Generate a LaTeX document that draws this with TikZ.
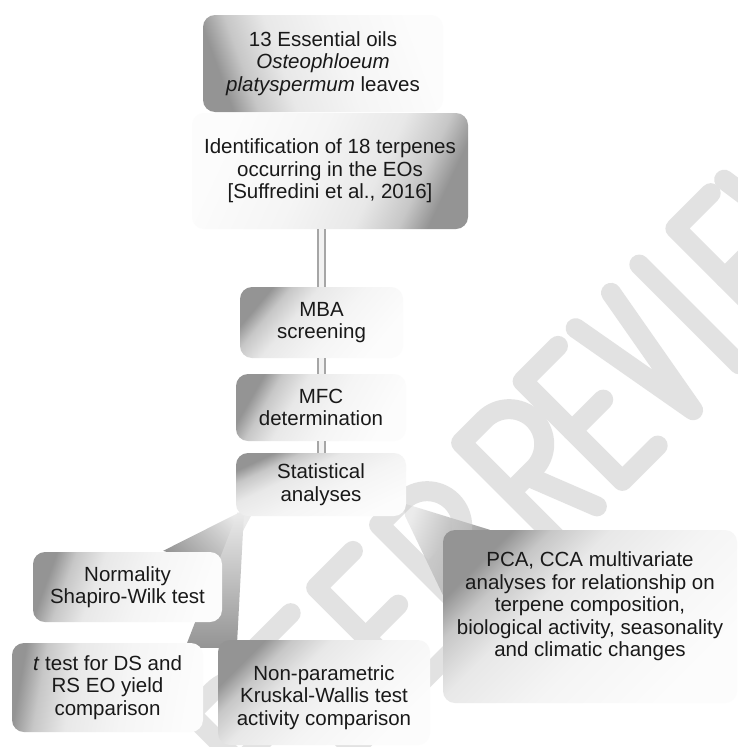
\documentclass[tikz,border=0pt]{standalone}
\usepackage{fontspec}
\setmainfont{Liberation Sans}
\usetikzlibrary{calc}
\pgfdeclarelayer{bg}
\pgfdeclarelayer{wmark}
\pgfsetlayers{bg,wmark,main}
\pgfdeclarehorizontalshading{boxshade}{100bp}{color(0bp)=(black!42); color(25bp)=(black!42); color(31bp)=(black!22); color(40bp)=(black!9); color(55bp)=(black!4); color(75bp)=(black!1); color(100bp)=(black!1)}
\pgfdeclarehorizontalshading{wedgeshade}{100bp}{color(0bp)=(black!42); color(25bp)=(black!42); color(75bp)=(black!8); color(100bp)=(black!8)}
\begin{document}
\begin{tikzpicture}[x=1pt,y=-1pt,
  box/.style={rounded corners=12pt, shade, shading=boxshade,
    align=center, font=\fontsize{20.5}{22.5}\selectfont, text=black!90, inner sep=0pt},
  txt/.style={align=center, font=\fontsize{20.5}{22.5}\selectfont, text=black!90, inner sep=0pt},
  wedge/.style={shading=wedgeshade},
  dbl/.style={draw=black!35, line width=2pt, double=black!5, double distance=5pt},
  wm/.style={draw=black!22, line width=20pt, line cap=round, line join=round}
]
\begin{pgfonlayer}{bg}
\fill[white] (0,0) rectangle (738,747);
\end{pgfonlayer}
\useasboundingbox (0,0) rectangle (738,747);

% boxes
\node[box, shading angle=20, minimum width=240pt, minimum height=97pt] (oils) at (323,63.5)
  {13 Essential oils\\\textit{Osteophloeum}\\\textit{platyspermum} leaves};
\node[box, shading angle=155, minimum width=276pt, minimum height=116pt] (ident) at (330,171)
  {Identification of 18 terpenes\\occurring in the EOs\\{[}Suffredini et al., 2016{]}};
\node[box, shading angle=-40, minimum width=163pt, minimum height=71pt] (mba) at (321.5,322.5)
  {MBA\\screening};
\node[box, shading angle=-30, minimum width=170pt, minimum height=67pt] (mfc) at (321,407.5)
  {MFC\\determination};
\node[box, shading angle=-65, minimum width=170pt, minimum height=63pt] (stat) at (321,484.5)
  {Statistical\\analyses};
\node[box, shading angle=-20, minimum width=189pt, minimum height=70pt] (norm) at (127.5,587)
  {Normality\\Shapiro-Wilk test};
\node[box, shading angle=-10, minimum width=191pt, minimum height=89pt] (ttest) at (107.5,687.5)
  {\textit{t} test for DS and\\RS EO yield\\comparison};
\node[box, shading angle=-45, minimum width=212pt, minimum height=105pt] (nonpar) at (324,692.5) {};
\node[txt] (nonpartxt) at ([yshift=-5pt]nonpar.center)
  {Non-parametric\\Kruskal-Wallis test\\activity comparison};
\node[box, shading angle=-45, minimum width=294pt, minimum height=173pt] (pca) at (590,616.5) {};
\node[txt] (pcatxt) at ([yshift=10pt]pca.center)
  {PCA, CCA multivariate\\analyses for relationship on\\terpene composition,\\biological activity, seasonality\\and climatic changes};

% double connectors
\draw[dbl] (mba.north |- ident.south) -- (mba.north);
\draw[dbl] (mba.south) -- (mba.south |- mfc.north);
\draw[dbl] (mfc.south) -- (mfc.south |- stat.north);

% wedge connectors
\begin{pgfonlayer}{bg}
\shade[wedge, shading angle=45] ($(stat.south west)+(10,-7)$) -- ($(stat.south west)+(15,0)$)
  -- ($(norm.north east)+(0,18)$) -- ($(norm.north east)+(-59,-1)$) -- cycle;
\shade[wedge, shading angle=90] ($(stat.south west)+(2,-4)$) -- ($(stat.south west)+(8,0)$)
  -- ($(nonpar.north west)+(19,8)$) -- ($(ttest.north east)+(-18,5)$) -- cycle;
\shade[wedge, shading angle=160] ($(stat.south east)+(-3,-13)$) -- ($(pca.north west)+(47,0)$)
  -- ($(pca.north west)+(0,65)$) -- ($(stat.south east)+(-1,0)$) -- cycle;
\end{pgfonlayer}

% watermark
\begin{pgfonlayer}{wmark}
\begin{scope}[transparency group, opacity=0.5]
\begin{scope}[x=1pt,y=1pt,shift={(558.7pt,-558.7pt)},rotate=45]
% P
\draw[wm] (-370,10) -- (-370,151) -- (-337,151) arc[start angle=90,end angle=-90,radius=35] -- (-370,81);
% E
\draw[wm] (-228,151) -- (-280,151) -- (-280,10) -- (-228,10);
\draw[wm] (-280,81) -- (-234,81);
% E
\draw[wm] (-140,151) -- (-192,151) -- (-192,10) -- (-140,10);
\draw[wm] (-192,81) -- (-146,81);
% R
\draw[wm] (-103,10) -- (-103,151) -- (-70,151) arc[start angle=90,end angle=-90,radius=35] -- (-103,81);
\draw[wm] (-80,81) -- (-52,10);
% R
\draw[wm] (13,10) -- (13,151) -- (46,151) arc[start angle=90,end angle=-90,radius=35] -- (13,81);
\draw[wm] (36,81) -- (64,10);
% E
\draw[wm] (150,151) -- (100,151) -- (100,10) -- (150,10);
\draw[wm] (100,81) -- (144,81);
% V
\draw[wm] (175,151) -- (200,10) -- (225,151);
% I
\draw[wm] (265,10) -- (265,151);
% E
\draw[wm] (366,151) -- (316,151) -- (316,10) -- (366,10);
\draw[wm] (316,81) -- (360,81);
% W
\draw[wm] (385,151) -- (405,10) -- (425,110) -- (445,10) -- (465,151);
\end{scope}
\end{scope}
\end{pgfonlayer}
\end{tikzpicture}
\end{document}
